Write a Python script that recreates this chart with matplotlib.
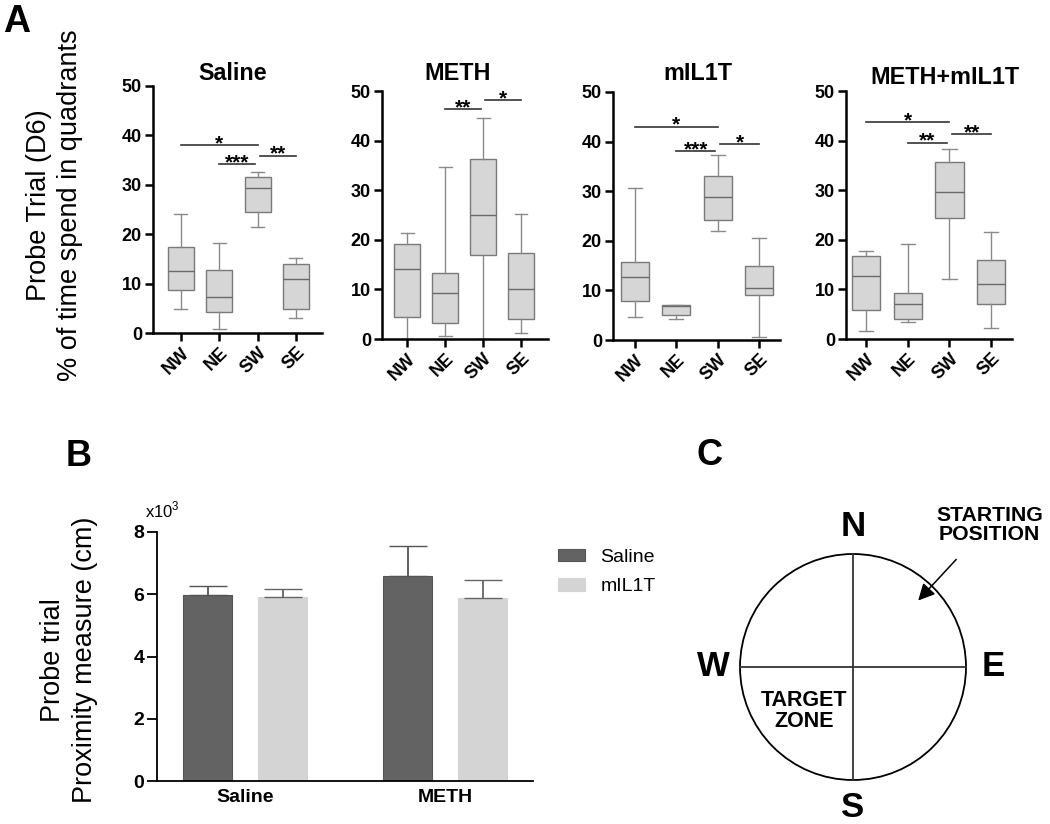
import numpy as np
import matplotlib.pyplot as plt
from matplotlib.patches import Circle

plt.rcParams['font.family'] = ['Liberation Sans', 'DejaVu Sans']
plt.rcParams['mathtext.fontset'] = 'custom'
plt.rcParams['mathtext.rm'] = 'Liberation Sans'

# ---- data ----
quadrants = ['NW', 'NE', 'SW', 'SE']
groups = ['Saline', 'METH', 'mIL1T', 'METH+mIL1T']

# box stats per quadrant: [whisker low, Q1, median, Q3, whisker high]
saline_box = [[4.9, 8.8, 12.5, 17.4, 24.0], [0.9, 4.3, 7.2, 12.7, 18.2],
              [21.4, 24.4, 29.3, 31.5, 32.6], [3.1, 4.9, 11.0, 13.9, 15.2]]
meth_box = [[0.0, 4.4, 14.1, 19.2, 21.4], [0.7, 3.2, 9.3, 13.4, 34.7],
            [0.0, 17.0, 24.9, 36.3, 44.6], [1.3, 4.0, 10.0, 17.4, 25.2]]
mil1t_box = [[4.6, 7.9, 12.8, 15.8, 30.7], [4.2, 5.0, 6.9, 7.1, 7.1],
             [21.9, 24.1, 28.8, 33.0, 37.3], [0.6, 9.1, 10.5, 15.0, 20.6]]
combo_box = [[1.6, 5.8, 12.8, 16.7, 17.7], [3.5, 4.0, 7.1, 9.2, 19.2],
             [12.0, 24.3, 29.7, 35.6, 38.4], [2.2, 7.0, 11.0, 15.9, 21.5]]

# significance brackets: (from quadrant, to quadrant, height, label)
saline_sig = [(0, 2, 38.0, '*'), (1, 2, 34.2, '***'), (2, 3, 35.9, '**')]
meth_sig = [(1, 2, 46.4, '**'), (2, 3, 48.2, '*')]
mil1t_sig = [(0, 2, 43.0, '*'), (1, 2, 38.1, '***'), (2, 3, 39.5, '*')]
combo_sig = [(0, 2, 43.8, '*'), (1, 2, 39.6, '**'), (2, 3, 41.3, '**')]

# panel B (x10^3 cm)
treat = ['Saline', 'METH']
saline_mean = [5.97, 6.59]
saline_sem = [0.30, 0.95]
mil1t_mean = [5.91, 5.89]
mil1t_sem = [0.27, 0.58]

# panel C
compass = ['N', 'E', 'S', 'W']
compass_angle = [90, 0, 270, 180]

W, H = 1050, 824
fig = plt.figure(figsize=(W / 100, H / 100), dpi=100)


def px_axes(l, t, r, b):
    return fig.add_axes([l / W, 1 - b / H, (r - l) / W, (b - t) / H])


def style_axes(ax, lw=1.8, length=6):
    for s in ['top', 'right']:
        ax.spines[s].set_visible(False)
    for s in ['left', 'bottom']:
        ax.spines[s].set_linewidth(lw)
    ax.tick_params(direction='out', length=length, width=lw, pad=2)


# ---- panel A ----
box_data = [saline_box, meth_box, mil1t_box, combo_box]
sig_data = [saline_sig, meth_sig, mil1t_sig, combo_sig]
rects = [(153, 86, 322, 333), (382, 91, 548, 339), (613, 92, 780, 340), (846, 91, 1012, 339)]
xlims = [(-0.73, 3.68), (-0.66, 3.71), (-0.53, 3.51), (-0.48, 3.5)]
title_pos = [(233, 73), (458, 73), (698, 73), (945, 78)]

for k in range(4):
    ax = px_axes(*rects[k])
    stats = [dict(whislo=b[0], q1=b[1], med=b[2], q3=b[3], whishi=b[4], fliers=[])
             for b in box_data[k]]
    ax.bxp(stats, positions=range(4), widths=0.68, patch_artist=True, showfliers=False,
           boxprops=dict(facecolor='#d6d6d6', edgecolor='#7a7a7a', linewidth=1),
           medianprops=dict(color='#6a6a6a', linewidth=1),
           whiskerprops=dict(color='#8a8a8a', linewidth=1),
           capprops=dict(color='#8a8a8a', linewidth=1))
    ax.set_xlim(*xlims[k])
    ax.set_ylim(0, 50)
    ax.set_yticks([0, 10, 20, 30, 40, 50])
    ax.set_xticks(range(4))
    ax.set_xticklabels(quadrants, rotation=45, ha='right', rotation_mode='anchor',
                       fontsize=13, fontweight='bold')
    for t in ax.get_yticklabels():
        t.set_fontsize(13)
        t.set_fontweight('bold')
    style_axes(ax)
    fig.text(title_pos[k][0] / W, 1 - title_pos[k][1] / H, groups[k], fontsize=16.8,
             fontweight='bold', ha='center', va='center')
    for i, j, y, lab in sig_data[k]:
        x0 = i + (0.06 if i == 2 else 0)
        x1 = j - (0.06 if (j == 2 and i != 0) else 0)
        ax.plot([x0, x1], [y, y], color='#333333', lw=1.2, clip_on=False)
        ax.annotate(lab, xy=((x0 + x1) / 2, y), xytext=(0, -3), textcoords='offset points',
                    ha='center', va='baseline', fontsize=15, fontweight='bold',
                    annotation_clip=False)

fig.text(55 / W, 1 - 205 / H, 'Probe Trial (D6)\n% of time spend in quadrants',
         rotation=90, ha='center', va='center', fontsize=19.5, linespacing=1.25)
fig.text(3 / W, 1 - 4 / H, 'A', fontsize=27, fontweight='bold', ha='left', va='top')

# ---- panel B ----
axb = px_axes(157, 532, 533, 781)
xs = range(len(treat))
axb.bar([x - 0.1875 for x in xs], saline_mean, width=0.245, color='#636363',
        edgecolor='#555555', linewidth=0.8, label='Saline',
        yerr=[[0] * len(xs), saline_sem], capsize=14, error_kw=dict(ecolor='#555555', elinewidth=1.3))
axb.bar([x + 0.1875 for x in xs], mil1t_mean, width=0.245, color='#d4d4d4',
        edgecolor='#d4d4d4', linewidth=0.8, label='mIL1T',
        yerr=[[0] * len(xs), mil1t_sem], capsize=14, error_kw=dict(ecolor='#666666', elinewidth=1.3))
axb.set_xlim(-0.44, 1.44)
axb.set_ylim(0, 8)
axb.set_yticks([0, 2, 4, 6, 8])
axb.set_xticks(list(xs))
axb.set_xticklabels(treat, fontsize=14, fontweight='bold')
for t in axb.get_yticklabels():
    t.set_fontsize(14)
    t.set_fontweight('bold')
style_axes(axb, lw=1.3, length=7)
axb.tick_params(axis='x', length=0, pad=6)
fig.text(145 / W, 1 - 517 / H, r'x10$^3$', fontsize=12, ha='left', va='baseline')
axb.legend(loc='upper left', bbox_to_anchor=(540 / W, 1 - 531 / H), bbox_transform=fig.transFigure,
           frameon=False, fontsize=14, handlelength=1.4, handleheight=0.62, labelspacing=0.65,
           handletextpad=0.8)

fig.text(69 / W, 1 - 660 / H, 'Probe trial\nProximity measure (cm)',
         rotation=90, ha='center', va='center', fontsize=19.5, linespacing=1.25)
fig.text(66 / W, 1 - 439 / H, 'B', fontsize=26, fontweight='bold', ha='left', va='top')

# ---- panel C ----
axc = px_axes(693, 490, 1050, 824)
axc.set_xlim(-160 / 113, 197 / 113)
axc.set_ylim(-157 / 113, 177 / 113)
axc.axis('off')
axc.add_patch(Circle((0, 0), 1, fill=False, edgecolor='black', lw=1.3))
axc.plot([-1, 1], [0, 0], color='#333333', lw=1.3)
axc.plot([0, 0], [-1, 1], color='#333333', lw=1.3)
for lab, ang in zip(compass, compass_angle):
    r = 1.24
    axc.text(r * np.cos(np.radians(ang)), r * np.sin(np.radians(ang)), lab,
             fontsize=25, fontweight='bold', ha='center', va='center')
axc.text(1.21, 1.257, 'STARTING\nPOSITION', fontsize=15.3, fontweight='bold',
         ha='center', va='center', linespacing=1.0)
axc.annotate('', xy=(0.56, 0.57), xytext=(0.93, 0.97),
             arrowprops=dict(arrowstyle='-|>', color='black', lw=1.1, mutation_scale=25))
axc.text(-0.43, -0.39, 'TARGET\nZONE', fontsize=15.5, fontweight='bold',
         ha='center', va='center', linespacing=1.05)
fig.text(696 / W, 1 - 438 / H, 'C', fontsize=26, fontweight='bold', ha='left', va='top')

fig.savefig('out.png', dpi=100)
